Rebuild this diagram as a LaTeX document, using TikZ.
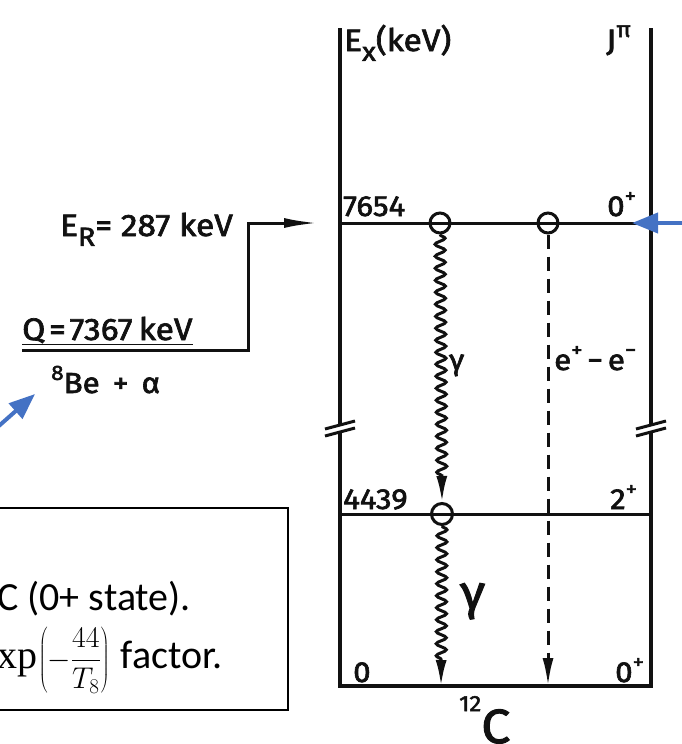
\RequirePackage{fix-cm}
\documentclass[tikz,border=0pt]{standalone}
\usepackage{fontspec}
\setmainfont{Carlito}
\setmathrm{Liberation Serif}
\newfontfamily\scanfont[FakeStretch=1.08,FakeBold=2.2]{Fira Sans}
\usetikzlibrary{arrows.meta,positioning,calc,decorations.pathmorphing}
\definecolor{ink}{HTML}{111111}
\definecolor{callout}{HTML}{4472C4}
\newcommand{\hiidx}[1]{\raisebox{0.45em}{\scalebox{0.72}{#1}}}
\newcommand{\loidx}[1]{\raisebox{-0.32em}{\scalebox{0.85}{#1}}}
\newcommand{\fsize}[1]{\fontsize{#1}{#1}\selectfont}
\tikzset{
  frame/.style={
    draw=ink,
    line width=3.6pt
  },
  level/.style={
    draw=ink,
    line width=3pt
  },
  breakmark/.style={
    draw=ink,
    line width=3pt
  },
  state/.style={
    circle,
    draw=ink,
    line width=3pt,
    minimum size=20pt,
    inner sep=0pt
  },
  big label/.style={
    font=\scanfont\fsize{31},
    text=ink,
    inner sep=0pt,
    anchor=base west
  },
  level label/.style={
    big label,
    font=\scanfont\fsize{29}
  },
  gamma/.style={
    draw=ink,
    line width=3pt,
    decorate,
    decoration={snake, amplitude=5pt, segment length=12pt, post length=26pt},
    -{Latex[length=26pt,width=11pt]}
  },
  pair/.style={
    draw=ink,
    line width=3pt,
    dash pattern=on 14pt off 8pt,
    -{Latex[length=28pt,width=11pt]}
  },
  feed/.style={
    draw=ink,
    line width=3pt,
    -{Latex[length=34pt,width=10pt]}
  },
  callout arrow/.style={
    draw=callout,
    line width=4pt,
    -{Triangle[length=26pt,width=20pt]}
  },
  note/.style={
    draw=black,
    line width=2pt,
    minimum width=293pt,
    minimum height=202pt,
    inner sep=0pt
  },
  note text/.style={
    font=\fsize{40},
    inner sep=0pt,
    anchor=base west
  }
}
\begin{document}
\begin{tikzpicture}[x=1pt, y=-1pt]
\useasboundingbox (0,0) rectangle (682,744);

% ---------------------------------------------------------------------------
% Level scheme frame
% ---------------------------------------------------------------------------
\coordinate (ftl) at (340,28);
\coordinate (ftr) at (651,28);
\coordinate (fbl) at (340,686);
\coordinate (fbr) at (651,686);
\coordinate (lbreakt) at (340,425);
\coordinate (lbreakb) at (340,432);
\coordinate (rbreakt) at (651,425);
\coordinate (rbreakb) at (651,432);

\draw[frame] (ftl) -- (lbreakt);
\draw[frame] (lbreakb) -- (fbl) -- (fbr) -- (rbreakb);
\draw[frame] (rbreakt) -- (ftr);

% break marks
\draw[breakmark] ($(lbreakt)+(-15,4)$) -- ++(30,-8);
\draw[breakmark] ($(lbreakb)+(-15,4)$) -- ++(30,-8);
\draw[breakmark] ($(rbreakt)+(-15,4)$) -- ++(30,-8);
\draw[breakmark] ($(rbreakb)+(-15,4)$) -- ++(30,-8);

% levels
\coordinate (hoylew) at (340,223);
\coordinate (hoylee) at (651,223);
\coordinate (firstw) at (340,514);
\coordinate (firste) at (651,514);
\draw[level] (hoylew) -- (hoylee);
\draw[level] (firstw) -- (firste);

\node[state] (gtop) at (440,223) {};
\node[state] (ptop) at (548,223) {};
\node[state, minimum size=21pt] (gmid) at (442,514) {};
\coordinate (gground) at (441,686);
\coordinate (pground) at (548,686);

% transitions
\draw[gamma] (gtop.south) -- (gmid.north);
\draw[gamma] (gmid.south) -- (gground);
\draw[pair] (ptop.south) -- (pground);

% ---------------------------------------------------------------------------
% Labels
% ---------------------------------------------------------------------------
\node[big label] (exhead) at (344,51) {E\loidx{x}(keV)};
\node[big label] (jphead) at (606,51) {J\hiidx{π}};
\node[level label] (ehoyle) at (343,216) {7654};
\node[level label] (jhoyle) at (607,216) {0\hiidx{+}};
\node[level label] (gamone) at (449,370) {γ};
\node[level label] (pairlab) at (554,370) {e\hiidx{+}\,−\,e\hiidx{−}};
\node[level label] (efirst) at (343,509) {4439};
\node[level label] (jfirst) at (610,509) {2\hiidx{+}};
\node[big label, font=\scanfont\fsize{48}] (gamtwo) at (460,609) {γ};
\node[level label] (eground) at (353,682) {0};
\node[level label] (jground) at (615,682) {0\hiidx{+}};
\node[big label] (carbon) at (459,743)
  {\raisebox{32pt}{\fsize{22}12}\fsize{48}C};

% ---------------------------------------------------------------------------
% Entrance channel
% ---------------------------------------------------------------------------
\coordinate (qstart) at (22,350);
\coordinate (qend) at (248,350);
\coordinate (ertip) at (318,223);
\draw[feed] (qstart) -- (qend) |- (ertip);

\node[big label] (erlab) at (60,236) {E\loidx{R}= 287 keV};
\node[big label] (qlab) at (22,340)
  {\underline{Q\hspace{0.12em}=\hspace{0.12em}7367\hspace{0.2em}keV}};
\node[big label, font=\scanfont\fsize{29}] (chan) at (51,393)
  {\hiidx{8}Be\, +\, α};

% ---------------------------------------------------------------------------
% Callouts
% ---------------------------------------------------------------------------
\coordinate (rtail) at (690,223);
\coordinate (rtip) at (632,223);
\draw[callout arrow] (rtail) -- (rtip);

\coordinate (ltail) at (-8,432);
\coordinate (ltip) at (35,394);
\draw[callout arrow] (ltail) -- (ltip);

\node[note] (notebox) at (141.5,609) {};
\node[note text] (noteone) at (-3,610) {C (0+ state).};
\node[note text] (notetwo) at (-3,668)
  {$\mathrm{xp}$\hspace{0.04em}{\fsize{30}$\displaystyle\left(-\frac{44}{T_8}\right)$}\hspace{0.05em} factor.};

\end{tikzpicture}
\end{document}
